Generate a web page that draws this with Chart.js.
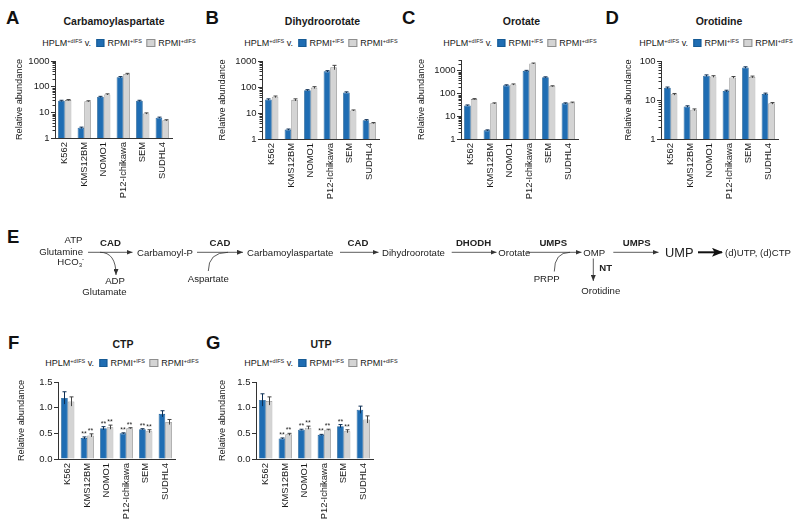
<!DOCTYPE html>
<html><head><meta charset="utf-8">
<script src="https://cdn.jsdelivr.net/npm/chart.js@4.4.1/dist/chart.umd.min.js"></script>
<style>
html,body{margin:0;padding:0;background:#fff;}
body{width:800px;height:529px;position:relative;overflow:hidden;font-family:"Liberation Sans",Arial,Helvetica,sans-serif;color:#1a1a1a;}
.abs{position:absolute;white-space:nowrap;}
.letter{font-weight:bold;font-size:18.5px;line-height:18.5px;color:#111;}
.title{font-weight:bold;font-size:10.5px;line-height:12px;height:12px;transform:translateX(-50%);}
.legend{font-size:9px;line-height:12px;height:12px;display:flex;align-items:center;transform:translateX(-50%);}
.legend sup{font-size:5.5px;line-height:0;vertical-align:3px;}
.sw{display:inline-block;width:8.5px;height:8.5px;box-sizing:border-box;margin:0 3px 0 5px;}
canvas{position:absolute;}
svg{position:absolute;left:0;top:0;}
</style></head><body>
<script>
// ---------------- DATA ----------------
const categories = ['K562', 'KMS12BM', 'NOMO1', 'P12-Ichikawa', 'SEM', 'SUDHL4'];
const seriesLabels = ['RPMI+IFS', 'RPMI+dIFS'];

// A: Carbamoylaspartate (relative abundance, log axis)
const carbamoylaspartate_IFS  = [28, 2.5, 40, 235, 28, 6.2];
const carbamoylaspartate_dIFS = [30, 27, 50, 310, 9, 4.9];
const carbamoylaspartate_IFS_err  = [1.5, 0.15, 2, 12, 1.5, 0.3];
const carbamoylaspartate_dIFS_err = [1.5, 1.2, 2.5, 20, 0.5, 0.25];

// B: Dihydroorotate
const dihydroorotate_IFS  = [33, 2.3, 75, 400, 62, 5.3];
const dihydroorotate_dIFS = [42, 32, 95, 570, 12.5, 4.1];
const dihydroorotate_IFS_err  = [2, 0.12, 4, 25, 3, 0.25];
const dihydroorotate_dIFS_err = [3, 3, 8, 110, 0.6, 0.2];

// C: Orotate
const orotate_IFS  = [30, 2.4, 230, 1000, 520, 37];
const orotate_dIFS = [57, 37, 250, 2100, 210, 40];
const orotate_IFS_err  = [1.5, 0.12, 12, 50, 25, 2];
const orotate_dIFS_err = [3, 2, 15, 100, 10, 2];

// D: Orotidine
const orotidine_IFS  = [20.5, 6.8, 42, 17, 68, 14.3];
const orotidine_dIFS = [14, 5.6, 40, 38, 39, 8.2];
const orotidine_IFS_err  = [1, 0.3, 2, 0.8, 3, 0.7];
const orotidine_dIFS_err = [0.7, 0.3, 2, 2, 2, 0.4];

// F: CTP (linear axis)
const ctp_IFS  = [1.19, 0.41, 0.60, 0.50, 0.58, 0.88];
const ctp_dIFS = [1.12, 0.46, 0.62, 0.60, 0.54, 0.72];
const ctp_IFS_err  = [0.12, 0.02, 0.03, 0.01, 0.01, 0.06];
const ctp_dIFS_err = [0.09, 0.03, 0.04, 0.01, 0.03, 0.05];

// G: UTP
const utp_IFS  = [1.15, 0.40, 0.57, 0.47, 0.64, 0.96];
const utp_dIFS = [1.13, 0.48, 0.61, 0.57, 0.54, 0.77];
const utp_IFS_err  = [0.12, 0.01, 0.01, 0.01, 0.03, 0.07];
const utp_dIFS_err = [0.08, 0.02, 0.03, 0.01, 0.03, 0.07];

// significance marks (** above both bars)
const significant = [false, true, true, true, true, false];

// axis ticks
const logTicks = [1, 10, 100, 1000];
const logTicksD = [1, 10, 100];
const linTicks = [0, 0.5, 1.0, 1.5];

// ---------------- LAYOUT / STYLE ----------------
const FONT = '"Liberation Sans", Arial, Helvetica, sans-serif';
const BLUE = '#1f6db3', BLUE_EDGE = '#165a94', GREY = '#d4d4d4', GREY_EDGE = '#8e8e8e';

const panels = [
  {letter:'A', lx:6, ly:9.3, title:'Carbamoylaspartate', tx:114, ty:21, legx:119, legy:43,
   a:carbamoylaspartate_IFS, b:carbamoylaspartate_dIFS, ea:carbamoylaspartate_IFS_err, eb:carbamoylaspartate_dIFS_err,
   log:true, min:1, max:1000, ticks:logTicks, plot:{l:55,t:61,r:172,b:138}, titleX:19},
  {letter:'B', lx:205.5, ly:9.3, title:'Dihydroorotate', tx:322.5, ty:21, legx:321, legy:43,
   a:dihydroorotate_IFS, b:dihydroorotate_dIFS, ea:dihydroorotate_IFS_err, eb:dihydroorotate_dIFS_err,
   log:true, min:1, max:1000, ticks:logTicks, plot:{l:262,t:61,r:379,b:139}, titleX:222},
  {letter:'C', lx:402, ly:9.3, title:'Orotate', tx:521.5, ty:21, legx:520, legy:43,
   a:orotate_IFS, b:orotate_dIFS, ea:orotate_IFS_err, eb:orotate_dIFS_err,
   log:true, min:1, max:3000, ticks:logTicks, plot:{l:461,t:60,r:578,b:139}, titleX:421.7},
  {letter:'D', lx:605.5, ly:9.3, title:'Orotidine', tx:719, ty:21, legx:716, legy:43,
   a:orotidine_IFS, b:orotidine_dIFS, ea:orotidine_IFS_err, eb:orotidine_dIFS_err,
   log:true, min:1, max:100, ticks:logTicksD, plot:{l:661,t:61,r:778,b:139}, titleX:628.3},
  {letter:'F', lx:8, ly:334.3, title:'CTP', tx:123, ty:344, legx:122, legy:363,
   a:ctp_IFS, b:ctp_dIFS, ea:ctp_IFS_err, eb:ctp_dIFS_err, sig:significant,
   log:false, min:0, max:1.5, ticks:linTicks, plot:{l:58,t:382,r:175,b:459}, titleX:21.7},
  {letter:'G', lx:206, ly:334.3, title:'UTP', tx:321, ty:344, legx:321, legy:363,
   a:utp_IFS, b:utp_dIFS, ea:utp_IFS_err, eb:utp_dIFS_err, sig:significant,
   log:false, min:0, max:1.5, ticks:linTicks, plot:{l:256,t:382,r:373,b:459}, titleX:222.7}
];

function addDiv(cls, html, left, top) {
  const d = document.createElement('div');
  d.className = 'abs ' + cls;
  d.innerHTML = html;
  d.style.left = left + 'px';
  d.style.top = top + 'px';
  document.body.appendChild(d);
  return d;
}

const legendHTML =
  '<span>HPLM<sup>+dIFS</sup> v.</span>' +
  '<span class="sw" style="background:' + BLUE + ';border:0.8px solid ' + BLUE_EDGE + '"></span>' +
  '<span>RPMI<sup>+IFS</sup></span>' +
  '<span class="sw" style="background:' + GREY + ';border:0.8px solid ' + GREY_EDGE + '"></span>' +
  '<span>RPMI<sup>+dIFS</sup></span>';

function extrasPlugin(p) {
  return {
    id: 'extras' + p.letter,
    afterDatasetsDraw(chart) {
      const ctx = chart.ctx, ys = chart.scales.y;
      const errs = [p.ea, p.eb];
      ctx.save();
      ctx.lineWidth = 1;
      chart.data.datasets.forEach((ds, di) => {
        const meta = chart.getDatasetMeta(di);
        meta.data.forEach((bar, i) => {
          const v = ds.data[i], e = errs[di][i];
          const x = Math.round(bar.x) + 0.5;
          const yt = ys.getPixelForValue(v + e);
          const yb = ys.getPixelForValue(Math.max(v - e, ys.min));
          ctx.strokeStyle = di === 0 ? '#0d2f55' : '#444';
          ctx.beginPath();
          ctx.moveTo(x, yb); ctx.lineTo(x, yt);
          ctx.moveTo(x - 2, yt); ctx.lineTo(x + 2, yt);
          ctx.stroke();
          if (p.sig && p.sig[i]) {
            ctx.fillStyle = '#222';
            ctx.font = '7px ' + FONT;
            ctx.textAlign = 'center';
            ctx.textBaseline = 'alphabetic';
            ctx.fillText('**', bar.x, yt - 1);
          }
        });
      });
      if (p.log) {
        ctx.strokeStyle = '#333';
        const xr = Math.round(chart.chartArea.left);
        for (let ex = 0; Math.pow(10, ex) < p.max; ex++) {
          for (let k = 2; k <= 9; k++) {
            const v = k * Math.pow(10, ex);
            if (v > p.max) break;
            const y = Math.round(ys.getPixelForValue(v)) + 0.5;
            ctx.beginPath(); ctx.moveTo(xr - 2.5, y); ctx.lineTo(xr, y); ctx.stroke();
          }
        }
      }
      ctx.restore();
    }
  };
}

function makeChart(p) {
  const padTop = 8, padRight = 10, xh = 75;
  const L = Math.round(p.plot.l - 48), T = Math.round(p.plot.t - padTop);
  const yw = p.plot.l - L;
  const pt = p.plot.t - T;
  const W = Math.round(p.plot.r - L + padRight), H = Math.round(p.plot.b - T + xh);
  const cv = document.createElement('canvas');
  cv.width = W; cv.height = H;
  cv.style.left = L + 'px'; cv.style.top = T + 'px';
  cv.style.width = W + 'px'; cv.style.height = H + 'px';
  document.body.appendChild(cv);
  const titleLH = 9.2 * 1.2;
  const titlePad = Math.max(0, p.titleX - L - titleLH / 2);
  new Chart(cv.getContext('2d'), {
    type: 'bar',
    data: {
      labels: categories,
      datasets: [
        {label: seriesLabels[0], data: p.a, backgroundColor: BLUE, borderColor: BLUE_EDGE, borderWidth: 0.8,
         barPercentage: 1, categoryPercentage: 0.68},
        {label: seriesLabels[1], data: p.b, backgroundColor: GREY, borderColor: GREY_EDGE, borderWidth: 0.8,
         barPercentage: 1, categoryPercentage: 0.68}
      ]
    },
    options: {
      responsive: false, animation: false, devicePixelRatio: 1,
      layout: {padding: {top: pt, right: W - (p.plot.r - L), left: 0, bottom: 0}},
      plugins: {legend: {display: false}, title: {display: false}, tooltip: {enabled: false}},
      scales: {
        x: {
          grid: {display: false, drawTicks: false},
          border: {display: true, color: '#333', width: 1},
          ticks: {autoSkip: false, minRotation: 90, maxRotation: 90, padding: 4, color: '#1a1a1a',
                  font: {size: 9.4, family: FONT}},
          afterFit: s => { s.height = xh; }
        },
        y: {
          type: p.log ? 'logarithmic' : 'linear',
          min: p.min, max: p.max,
          afterBuildTicks: s => { s.ticks = p.ticks.map(v => ({value: v})); },
          afterFit: s => { s.width = yw; },
          ticks: {autoSkip: false, padding: 1.5, color: '#1a1a1a', font: {size: 9.5, family: FONT},
                  callback: v => p.log ? String(v) : Number(v).toFixed(1)},
          grid: {display: true, drawOnChartArea: false, drawTicks: true, tickLength: 4, tickColor: '#333', tickWidth: 1},
          border: {display: true, color: '#333', width: 1},
          title: {display: true, text: 'Relative abundance', color: '#1a1a1a',
                  font: {size: 9.2, family: FONT}, padding: {top: titlePad, bottom: 0}}
        }
      }
    },
    plugins: [extrasPlugin(p)]
  });
}

panels.forEach(p => {
  addDiv('letter', p.letter, p.lx, p.ly);
  addDiv('title', p.title, p.tx, p.ty - 6);
  addDiv('legend', legendHTML, p.legx, p.legy - 6);
  makeChart(p);
});
addDiv('letter', 'E', 7, 227.6);
</script>

<svg width="800" height="529" font-family="Liberation Sans, Arial, Helvetica, sans-serif" font-size="9.6" fill="#222">
  <defs>
    <marker id="ah" viewBox="0 0 6 5" markerWidth="6" markerHeight="5" refX="6" refY="2.5" orient="auto" markerUnits="userSpaceOnUse">
      <path d="M0,0L6,2.5L0,5z" fill="#333"/>
    </marker>
    <marker id="ah2" viewBox="0 0 11 9" markerWidth="11" markerHeight="9" refX="10" refY="4.5" orient="auto" markerUnits="userSpaceOnUse">
      <path d="M0,0L11,4.5L0,9L2.5,4.5z" fill="#111"/>
    </marker>
  </defs>
  <g stroke="none">
    <text x="82.5" y="242.6" text-anchor="end">ATP</text>
    <text x="83" y="255.3" text-anchor="end">Glutamine</text>
    <text x="84" y="265.3" text-anchor="end">HCO<tspan font-size="6" dy="2">3</tspan><tspan font-size="6" dy="-6">-</tspan></text>

    <text x="110.5" y="245.6" text-anchor="middle" font-weight="bold">CAD</text>
    <text x="137" y="255.7">Carbamoyl-P</text>
    <text x="115" y="284.2" text-anchor="middle">ADP</text>
    <text x="104.5" y="295.3" text-anchor="middle">Glutamate</text>

    <text x="220" y="245.6" text-anchor="middle" font-weight="bold">CAD</text>
    <text x="208.3" y="281.9" text-anchor="middle">Aspartate</text>
    <text x="247" y="255.7">Carbamoylaspartate</text>

    <text x="358" y="245.6" text-anchor="middle" font-weight="bold">CAD</text>
    <text x="382" y="255.7">Dihydroorotate</text>

    <text x="473.5" y="245.6" text-anchor="middle" font-weight="bold">DHODH</text>
    <text x="498.3" y="255.7">Orotate</text>

    <text x="553.3" y="245.6" text-anchor="middle" font-weight="bold">UMPS</text>
    <text x="546.7" y="281.7" text-anchor="middle">PRPP</text>
    <text x="583.3" y="255.7">OMP</text>
    <text x="599.3" y="271" font-weight="bold">NT</text>
    <text x="600.8" y="294" text-anchor="middle">Orotidine</text>

    <text x="636.7" y="245.6" text-anchor="middle" font-weight="bold">UMPS</text>
    <text x="665" y="256.9" font-size="12.8">UMP</text>
    <text x="725" y="255.7">(d)UTP, (d)CTP</text>
  </g>
  <g fill="none" stroke="#333" stroke-width="0.8">
    <line x1="88" y1="252.3" x2="132.5" y2="252.3" marker-end="url(#ah)"/>
    <path d="M100,252.3 Q116,252.3 116,275" marker-end="url(#ah)"/>
    <line x1="197" y1="252.3" x2="243" y2="252.3" marker-end="url(#ah)"/>
    <path d="M208.3,271 Q208.3,252.3 228,252.3"/>
    <line x1="340" y1="252.3" x2="378.5" y2="252.3" marker-end="url(#ah)"/>
    <line x1="451.7" y1="252.3" x2="496.5" y2="252.3" marker-end="url(#ah)"/>
    <line x1="527" y1="252.3" x2="581.5" y2="252.3" marker-end="url(#ah)"/>
    <path d="M554.3,271.5 Q554.3,252.3 570,252.3"/>
    <line x1="593.3" y1="258.5" x2="593.3" y2="281" marker-end="url(#ah)"/>
    <line x1="613.3" y1="252.3" x2="658.5" y2="252.3" marker-end="url(#ah)"/>
    <line x1="698" y1="252.3" x2="722" y2="252.3" stroke="#111" stroke-width="2" marker-end="url(#ah2)"/>
  </g>
</svg>
</body></html>
